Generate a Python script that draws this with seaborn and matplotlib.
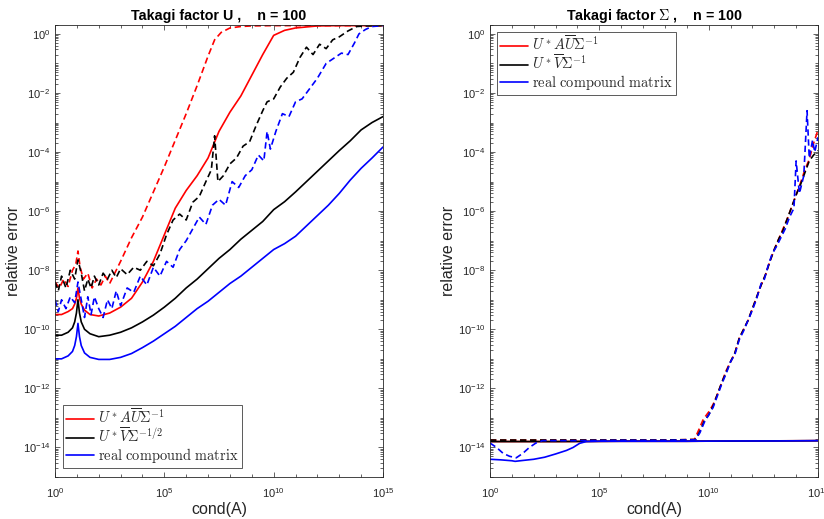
import numpy as np
import matplotlib
matplotlib.use("Agg")
import matplotlib.pyplot as plt
import seaborn as sns
from matplotlib.ticker import FixedLocator, LogLocator, LogFormatterSciNotation, NullFormatter

# ---------------------------------------------------------------------------
# Data: log10(cond(A)) positions and log10(relative error) values
# ---------------------------------------------------------------------------

# Panel 1: Takagi factor U
u_red_solid_x = [0, 0.3, 0.6, 0.8, 0.9, 0.98, 1.05, 1.12, 1.2, 1.35, 1.6, 2.0, 2.5, 3.0, 3.5,
                 4.0, 4.5, 5.0, 5.5, 6.0, 6.5, 7.0, 7.5, 8.0, 8.5, 9.0, 9.5, 10.0, 10.5,
                 11.0, 12.0, 13.0, 15.0]
u_red_solid_y = [-9.5, -9.5, -9.4, -9.3, -9.15, -8.95, -8.6, -8.95, -9.15, -9.35, -9.5, -9.55,
                 -9.45, -9.25, -8.95, -8.4, -7.7, -6.8, -5.9, -5.3, -4.8, -4.2, -3.3, -2.65,
                 -2.1, -1.4, -0.7, -0.05, 0.12, 0.2, 0.27, 0.28, 0.28]

u_red_dash_x = [0, 0.2, 0.4, 0.6, 0.8, 0.95, 1.05, 1.15, 1.3, 1.5, 1.7, 1.9, 2.1, 2.3, 2.5,
                2.8, 3.0, 3.5, 4.0, 4.5, 5.0, 5.5, 6.0, 6.5, 7.0, 7.3, 7.6, 8.0, 8.5, 9.0,
                10.0, 15.0]
u_red_dash_y = [-8.4, -8.6, -8.3, -8.55, -8.0, -7.8, -7.35, -7.9, -8.3, -8.1, -8.6, -8.3, -8.5,
                -8.2, -8.45, -8.0, -7.7, -6.9, -6.2, -5.35, -4.5, -3.6, -2.7, -1.75, -0.75,
                -0.2, 0.05, 0.2, 0.25, 0.27, 0.28, 0.28]

u_black_solid_x = [0, 0.3, 0.6, 0.8, 0.9, 0.98, 1.05, 1.12, 1.2, 1.35, 1.6, 2.0, 2.5, 3.0, 3.5,
                   4.0, 4.5, 5.0, 5.5, 6.0, 6.5, 7.0, 7.5, 8.0, 8.5, 9.0, 9.5, 10.0, 10.5,
                   11.0, 11.5, 12.0, 12.5, 13.0, 13.5, 14.0, 14.5, 15.0]
u_black_solid_y = [-10.2, -10.2, -10.1, -9.95, -9.75, -9.45, -9.0, -9.45, -9.75, -10.0, -10.15,
                   -10.25, -10.2, -10.1, -9.95, -9.75, -9.52, -9.25, -8.95, -8.6, -8.3, -7.95,
                   -7.6, -7.3, -6.95, -6.65, -6.35, -5.95, -5.68, -5.35, -5.0, -4.65, -4.3,
                   -3.95, -3.62, -3.25, -3.0, -2.8]

u_black_dash_x = [0, 0.15, 0.3, 0.5, 0.7, 0.9, 1.05, 1.2, 1.35, 1.5, 1.65, 1.8, 2.0, 2.2, 2.4,
                  2.6, 2.8, 3.0, 3.3, 3.6, 3.9, 4.2, 4.5, 4.8, 5.1, 5.4, 5.7, 6.0, 6.3, 6.6,
                  6.9, 7.15, 7.3, 7.45, 7.7, 8.0, 8.3, 8.6, 8.9, 9.2, 9.5, 9.7, 10.0, 10.3,
                  10.6, 10.9, 11.2, 11.5, 11.8, 12.1, 12.4, 12.7, 13.0, 13.4, 13.8, 14.2, 15.0]
u_black_dash_y = [-8.4, -8.7, -8.2, -8.6, -8.0, -8.3, -7.65, -8.1, -8.7, -8.3, -8.6, -8.2, -8.5,
                  -8.1, -8.3, -8.0, -8.25, -7.95, -8.15, -7.9, -8.0, -7.7, -7.85, -7.45, -6.8,
                  -6.3, -6.1, -6.3, -5.7, -5.5, -5.0, -4.6, -3.45, -5.0, -4.8, -4.4, -4.2,
                  -3.8, -3.65, -3.1, -2.6, -2.3, -2.2, -1.8, -1.5, -1.3, -0.8, -0.45, -0.7,
                  -0.35, -0.5, -0.2, -0.1, 0.1, 0.25, 0.27, 0.28]

u_blue_solid_x = [0, 0.3, 0.6, 0.8, 0.9, 0.98, 1.05, 1.12, 1.2, 1.35, 1.6, 2.0, 2.5, 3.0, 3.5,
                  4.0, 4.5, 5.0, 5.5, 6.0, 6.5, 7.0, 7.5, 8.0, 8.5, 9.0, 9.5, 10.0, 10.5,
                  11.0, 11.5, 12.0, 12.5, 13.0, 13.5, 14.0, 14.5, 15.0]
u_blue_solid_y = [-11.0, -11.0, -10.9, -10.75, -10.55, -10.25, -9.8, -10.25, -10.55, -10.8,
                  -10.95, -11.02, -11.02, -10.95, -10.82, -10.62, -10.4, -10.15, -9.9, -9.6,
                  -9.3, -9.05, -8.75, -8.45, -8.2, -7.9, -7.6, -7.3, -7.1, -6.85, -6.5, -6.15,
                  -5.8, -5.4, -4.95, -4.55, -4.2, -3.83]

u_blue_dash_x = [0, 0.15, 0.3, 0.5, 0.7, 0.9, 1.05, 1.2, 1.35, 1.5, 1.65, 1.8, 2.0, 2.2, 2.4,
                 2.6, 2.8, 3.0, 3.3, 3.6, 3.9, 4.2, 4.5, 4.8, 5.1, 5.4, 5.7, 6.0, 6.3, 6.6,
                 6.9, 7.2, 7.5, 7.8, 8.1, 8.4, 8.7, 9.0, 9.3, 9.55, 9.7, 9.85, 10.1, 10.4,
                 10.7, 11.0, 11.3, 11.6, 12.0, 12.4, 12.8, 13.1, 13.4, 13.7, 13.9, 14.2,
                 14.5, 15.0]
u_blue_dash_y = [-9.0, -9.4, -9.0, -9.3, -8.9, -9.1, -8.4, -9.0, -9.6, -8.9, -9.5, -8.9, -9.3,
                 -9.6, -9.0, -9.3, -8.7, -9.2, -8.6, -8.75, -8.2, -8.5, -7.9, -8.2, -7.7,
                 -7.9, -7.3, -7.0, -6.6, -6.2, -6.45, -5.8, -5.6, -5.8, -5.0, -5.2, -4.8,
                 -4.6, -4.1, -4.3, -3.3, -3.9, -3.3, -2.7, -2.8, -2.3, -2.2, -1.9, -1.5,
                 -1.0, -0.8, -0.65, -0.7, -0.3, 0.0, 0.15, 0.25, 0.28]

# Panel 2: Takagi factor Sigma
s_red_solid_x = [0, 3, 6, 9, 12, 15]
s_red_solid_y = [-13.8, -13.8, -13.79, -13.79, -13.78, -13.77]

s_black_solid_x = [0, 3, 6, 9, 12, 15]
s_black_solid_y = [-13.8, -13.8, -13.79, -13.79, -13.78, -13.77]

s_blue_solid_x = [0, 0.5, 1.0, 1.15, 1.5, 2.0, 2.5, 3.0, 3.5, 3.8, 4.1, 4.4, 5.0, 7.0, 9.0,
                  11.0, 13.0, 15.0]
s_blue_solid_y = [-14.4, -14.42, -14.45, -14.47, -14.44, -14.4, -14.33, -14.22, -14.1, -14.0,
                  -13.86, -13.8, -13.79, -13.79, -13.79, -13.78, -13.78, -13.77]

s_red_dash_x = [0, 2, 4, 6, 8, 9.35, 9.55, 9.75, 10.0, 10.2, 10.4, 10.6, 10.8, 11.0, 11.2,
                11.4, 11.6, 11.8, 12.0, 12.2, 12.4, 12.6, 12.8, 13.0, 13.2, 13.4, 13.6, 13.8,
                14.0, 14.2, 14.4, 14.6, 14.8, 15.0]
s_red_dash_y = [-13.75, -13.75, -13.75, -13.75, -13.75, -13.73, -13.4, -13.05, -12.8, -12.55,
                -12.2, -11.8, -11.4, -11.1, -10.8, -10.3, -10.0, -9.7, -9.3, -8.9, -8.5,
                -8.15, -7.7, -7.3, -6.95, -6.6, -6.25, -5.85, -5.45, -5.05, -4.6, -4.25,
                -3.7, -3.25]

s_black_dash_x = [0, 2, 4, 6, 8, 9.4, 9.6, 9.8, 10.0, 10.2, 10.4, 10.6, 10.8, 11.0, 11.2,
                  11.4, 11.6, 11.8, 12.0, 12.2, 12.4, 12.6, 12.8, 13.0, 13.2, 13.4, 13.6,
                  13.8, 14.0, 14.2, 14.4, 14.6, 14.8, 15.0]
s_black_dash_y = [-13.75, -13.75, -13.75, -13.75, -13.75, -13.73, -13.45, -13.1, -12.9, -12.6,
                  -12.2, -11.8, -11.45, -11.1, -10.8, -10.3, -10.0, -9.7, -9.3, -8.9, -8.5,
                  -8.15, -7.7, -7.3, -6.95, -6.65, -6.25, -5.85, -5.45, -5.1, -4.7, -4.3,
                  -4.1, -3.95]

s_blue_dash_x = [0, 0.3, 0.6, 0.9, 1.2, 1.5, 1.8, 2.1, 2.4, 4, 6, 8, 9.4, 9.6, 9.8, 10.0, 10.2,
                 10.4, 10.6, 10.8, 11.0, 11.2, 11.4, 11.6, 11.8, 12.0, 12.2, 12.4, 12.55,
                 12.7, 12.9, 13.1, 13.3, 13.5, 13.7, 13.9, 14.0, 14.15, 14.35, 14.5, 14.6,
                 14.75, 14.85, 15.0]
s_blue_dash_y = [-13.85, -14.0, -14.2, -14.3, -14.35, -14.2, -14.0, -13.85, -13.77, -13.77,
                 -13.76, -13.76, -13.74, -13.5, -13.15, -12.9, -12.65, -12.25, -11.85, -11.5,
                 -11.1, -10.85, -10.35, -10.05, -9.7, -9.35, -8.95, -8.45, -8.3, -7.9, -7.45,
                 -7.2, -6.9, -6.6, -6.2, -5.9, -4.3, -5.4, -4.8, -2.6, -4.2, -3.6, -4.0, -3.5]

u_labels = [r"$U^*A\overline{U}\Sigma^{-1}$", r"$U^*\overline{V}\Sigma^{-1/2}$",
            r"$\mathrm{real\ compound\ matrix}$"]
s_labels = [r"$U^*A\overline{U}\Sigma^{-1}$", r"$U^*\overline{V}\Sigma^{-1}$",
            r"$\mathrm{real\ compound\ matrix}$"]

u_title = "Takagi factor U ,    n = 100"
s_title = r"Takagi factor $\Sigma$ ,    n = 100"

COLORS = {"red": "#ff0000", "black": "#000000", "blue": "#0000ff"}

# ---------------------------------------------------------------------------
# Styling
# ---------------------------------------------------------------------------
sns.set_style("ticks")
plt.rcParams.update({
    "font.family": ["Liberation Sans", "DejaVu Sans"],
    "mathtext.fontset": "cm",
    "axes.edgecolor": "#262626",
    "axes.linewidth": 0.6,
    "xtick.color": "#262626",
    "ytick.color": "#262626",
    "xtick.direction": "in",
    "ytick.direction": "in",
    "xtick.top": True,
    "ytick.right": True,
    "xtick.major.size": 3.5,
    "ytick.major.size": 3.5,
    "xtick.minor.size": 2.0,
    "ytick.minor.size": 2.0,
    "xtick.major.width": 0.5,
    "ytick.major.width": 0.5,
    "xtick.minor.width": 0.5,
    "ytick.minor.width": 0.5,
    "xtick.labelsize": 8,
    "ytick.labelsize": 8,
})

fig = plt.figure(figsize=(8.24, 5.19), dpi=100)
ax_u = fig.add_axes([55 / 824, 42 / 519, 328 / 824, 452 / 519])
ax_s = fig.add_axes([490 / 824, 42 / 519, 328 / 824, 452 / 519])

LW = 1.2
DASH = (0, (3.8, 2.2))


def draw(ax, xs, ys, color, dashed):
    sns.lineplot(x=np.power(10.0, xs), y=np.power(10.0, ys), ax=ax, color=COLORS[color],
                 linewidth=LW, linestyle=DASH if dashed else "-",
                 estimator=None, sort=False, legend=False)
    return ax.lines[-1]


def style_axes(ax, title, handles, labels, legend_loc, legend_anchor):
    ax.set_xscale("log")
    ax.set_yscale("log")
    ax.set_xlim(1, 1e15)
    ax.set_ylim(1e-15, 2)
    ax.xaxis.set_major_locator(FixedLocator([1e0, 1e5, 1e10, 1e15]))
    ax.xaxis.set_minor_locator(FixedLocator([10.0 ** k for k in range(16)]))
    ax.yaxis.set_major_locator(FixedLocator([10.0 ** k for k in range(-14, 1, 2)]))
    ax.yaxis.set_minor_locator(LogLocator(base=10, subs=np.arange(1, 10), numticks=200))
    ax.xaxis.set_major_formatter(LogFormatterSciNotation())
    ax.yaxis.set_major_formatter(LogFormatterSciNotation())
    ax.xaxis.set_minor_formatter(NullFormatter())
    ax.yaxis.set_minor_formatter(NullFormatter())
    ax.tick_params(axis="x", which="both", pad=6.5, labelcolor="#262626")
    ax.tick_params(axis="y", which="both", pad=3.5, labelcolor="#262626")
    for sp in ax.spines.values():
        sp.set_visible(True)
    ax.set_title(title, fontsize=10.3, fontweight="bold", pad=3.6, color="black")
    ax.set_xlabel("cond(A)", fontsize=11.5, color="#262626")
    ax.set_ylabel("relative error", fontsize=11.5, color="#262626")
    ax.xaxis.set_label_coords(0.5, -0.055)
    ax.yaxis.set_label_coords(-0.104, 0.5)
    leg = ax.legend(handles, labels, loc=legend_loc, bbox_to_anchor=legend_anchor,
                    borderaxespad=0, fontsize=10.4, handlelength=1.95, handletextpad=0.3,
                    labelspacing=0.0, borderpad=0.2, fancybox=False, framealpha=1,
                    edgecolor="#404040")
    leg.get_frame().set_linewidth(0.6)


# Panel 1
h1 = draw(ax_u, u_red_solid_x, u_red_solid_y, "red", False)
draw(ax_u, u_red_dash_x, u_red_dash_y, "red", True)
h2 = draw(ax_u, u_black_solid_x, u_black_solid_y, "black", False)
draw(ax_u, u_black_dash_x, u_black_dash_y, "black", True)
h3 = draw(ax_u, u_blue_solid_x, u_blue_solid_y, "blue", False)
draw(ax_u, u_blue_dash_x, u_blue_dash_y, "blue", True)
style_axes(ax_u, u_title, [h1, h2, h3], u_labels, "lower left", (0.024, 0.02))

# Panel 2
g1 = draw(ax_s, s_red_solid_x, s_red_solid_y, "red", False)
draw(ax_s, s_red_dash_x, s_red_dash_y, "red", True)
g2 = draw(ax_s, s_black_solid_x, s_black_solid_y, "black", False)
draw(ax_s, s_black_dash_x, s_black_dash_y, "black", True)
g3 = draw(ax_s, s_blue_solid_x, s_blue_solid_y, "blue", False)
draw(ax_s, s_blue_dash_x, s_blue_dash_y, "blue", True)
style_axes(ax_s, s_title, [g1, g2, g3], s_labels, "upper left", (0.021, 0.985))

fig.savefig("out.png", dpi=100)
